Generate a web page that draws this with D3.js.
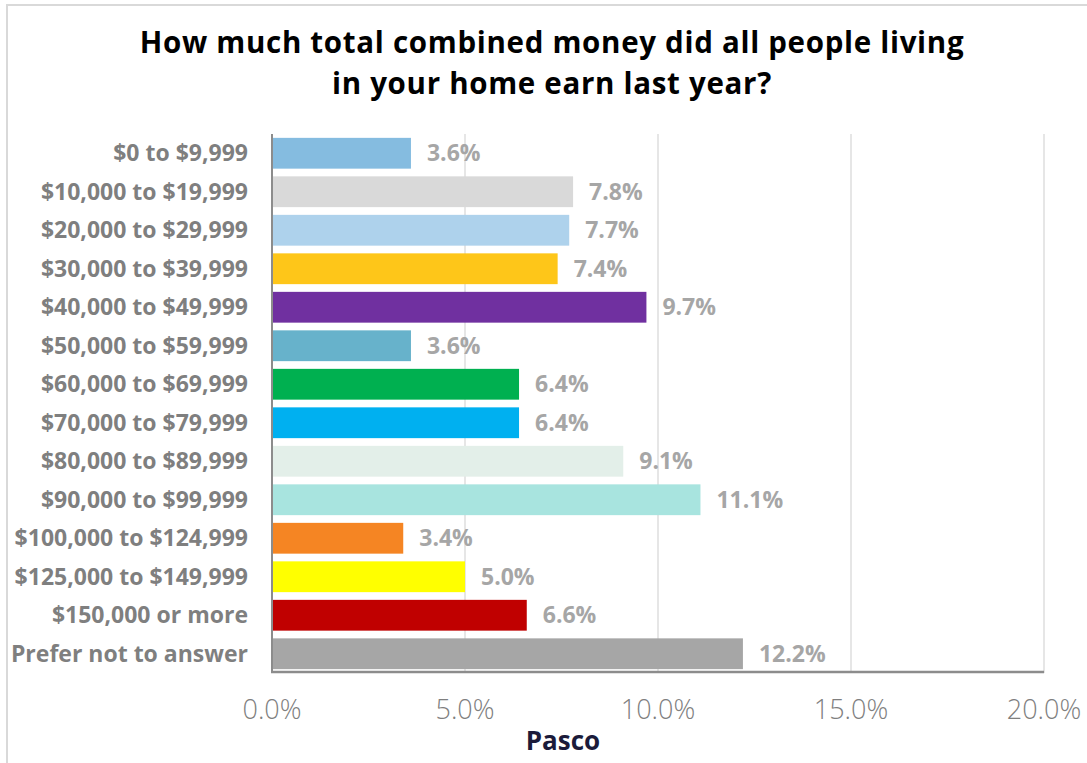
<!DOCTYPE html>
<html>
<head>
<meta charset="utf-8">
<script src="https://cdn.jsdelivr.net/npm/d3@7"></script>
<style>
  body { margin: 0; background: #fff; }
  svg { display: block; }
</style>
</head>
<body>
<svg id="chart" width="1087" height="763"></svg>
<script>
const categories = ['$0 to $9,999', '$10,000 to $19,999', '$20,000 to $29,999',
    '$30,000 to $39,999', '$40,000 to $49,999', '$50,000 to $59,999',
    '$60,000 to $69,999', '$70,000 to $79,999', '$80,000 to $89,999',
    '$90,000 to $99,999', '$100,000 to $124,999', '$125,000 to $149,999',
    '$150,000 or more', 'Prefer not to answer']
const values = [3.6, 7.8, 7.7, 7.4, 9.7, 3.6, 6.4, 6.4, 9.1, 11.1, 3.4, 5.0, 6.6, 12.2]
const barColors = ['#85bce0', '#d9d9d9', '#aed2ec', '#fec619', '#7030a0', '#67b2cb',
    '#00b050', '#00b0f0', '#e3efe9', '#a8e4df', '#f58523', '#ffff00', '#c00000', '#a6a6a6']
const xTicks = [0, 5, 10, 15, 20]
const titleLines = ['How much total combined money did all people living', 'in your home earn last year?']
const axisTitle = 'Pasco'

const font = '"Open Sans", Lato, sans-serif'
const svg = d3.select('#chart')

const plotLeft = 272
const plotRight = 1044
const plotTop = 134
const plotBottom = 673

// chart frame (cropped on the right and bottom like the original)
svg.append('path')
    .attr('d', `M7,763 V5 H1087`)
    .attr('fill', 'none')
    .attr('stroke', '#d9d9d9')
    .attr('stroke-width', 2)

const x = d3.scaleLinear().domain([0, 20]).range([plotLeft, plotRight])
const y = d3.scaleBand().domain(categories).range([plotTop, plotBottom]).paddingInner(0.2).paddingOuter(0.1)

// title
svg.append('g').selectAll('text')
    .data(titleLines)
    .enter()
    .append('text')
    .attr('x', 552)
    .attr('y', (_, i) => 53 + i * 41)
    .attr('text-anchor', 'middle')
    .attr('font-family', font)
    .attr('font-weight', 'bold')
    .attr('font-size', 29.5)
    .attr('letter-spacing', 0.7)
    .attr('fill', '#000')
    .text(d => d)

// gridlines
svg.append('g').selectAll('line')
    .data(xTicks.slice(1))
    .enter()
    .append('line')
    .attr('x1', d => x(d))
    .attr('x2', d => x(d))
    .attr('y1', plotTop)
    .attr('y2', plotBottom)
    .attr('stroke', '#e6e6e6')
    .attr('stroke-width', 2)

// bars
svg.append('g').selectAll('rect')
    .data(categories)
    .enter()
    .append('rect')
    .attr('x', x(0))
    .attr('y', d => y(d))
    .attr('width', (_, i) => x(values[i]) - x(0))
    .attr('height', y.bandwidth())
    .attr('fill', (_, i) => barColors[i])

// value labels
svg.append('g').selectAll('text')
    .data(categories)
    .enter()
    .append('text')
    .attr('x', (_, i) => x(values[i]) + 16)
    .attr('y', d => y(d) + y.bandwidth() / 2 + 8)
    .attr('font-family', font)
    .attr('font-weight', 'bold')
    .attr('font-size', 23)
    .attr('fill', '#a6a6a6')
    .text((_, i) => values[i].toFixed(1) + '%')

// category labels
svg.append('g').selectAll('text')
    .data(categories)
    .enter()
    .append('text')
    .attr('x', 248)
    .attr('y', d => y(d) + y.bandwidth() / 2 + 8)
    .attr('text-anchor', 'end')
    .attr('font-family', font)
    .attr('font-weight', 'bold')
    .attr('font-size', 23)
    .attr('fill', '#7f7f7f')
    .text(d => d)

// axis lines
svg.append('line')
    .attr('x1', plotLeft).attr('x2', plotLeft)
    .attr('y1', plotTop).attr('y2', plotBottom)
    .attr('stroke', '#8c8c8c')
    .attr('stroke-width', 2)
svg.append('line')
    .attr('x1', plotLeft - 1).attr('x2', plotRight)
    .attr('y1', plotBottom - 1).attr('y2', plotBottom - 1)
    .attr('stroke', '#8c8c8c')
    .attr('stroke-width', 2.5)

// x tick labels
svg.append('g').selectAll('text')
    .data(xTicks)
    .enter()
    .append('text')
    .attr('x', d => x(d))
    .attr('y', 719)
    .attr('text-anchor', 'middle')
    .attr('font-family', font)
    .attr('font-weight', 300)
    .attr('font-size', 27)
    .attr('fill', '#7f7f7f')
    .text(d => d.toFixed(1) + '%')

svg.append('text')
    .attr('x', 563)
    .attr('y', 750)
    .attr('text-anchor', 'middle')
    .attr('font-family', font)
    .attr('font-weight', 'bold')
    .attr('font-size', 26)
    .attr('fill', '#1b1b3a')
    .text(axisTitle)
</script>
</body>
</html>
